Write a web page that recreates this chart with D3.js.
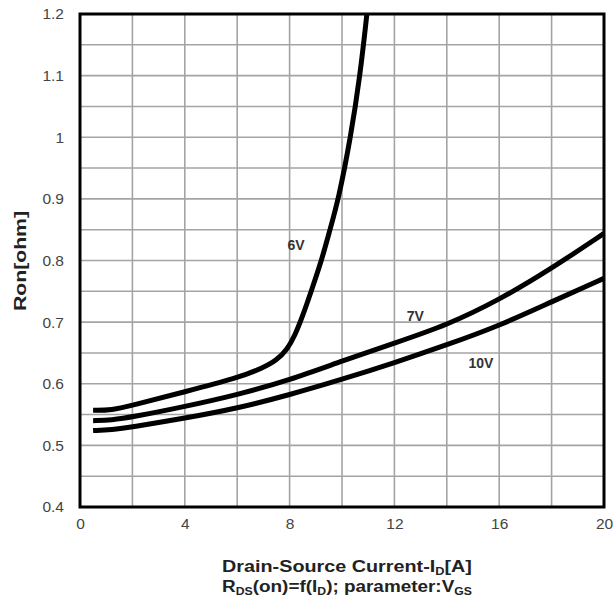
<!DOCTYPE html>
<html><head><meta charset="utf-8">
<script src="https://cdn.jsdelivr.net/npm/d3@7"></script>
<style>body{margin:0;background:#fff}svg{display:block}</style>
</head><body>
<svg id="c" width="614" height="604"></svg>
<script>
const xTicks = [0, 4, 8, 12, 16, 20];
const yTicks = [0.4, 0.5, 0.6, 0.7, 0.8, 0.9, 1, 1.1, 1.2];
const xGrid = [2, 4, 6, 8, 10, 12, 14, 16, 18];
const yGrid = [0.45, 0.5, 0.55, 0.6, 0.65, 0.7, 0.75, 0.8, 0.85, 0.9, 0.95, 1, 1.05, 1.1, 1.15];
const seriesNames = ["6V", "7V", "10V"];
const v6 = [[0.5,0.557],[1.2,0.557],[2,0.565],[4,0.587],[6,0.609],[7,0.626],[7.5,0.638],[7.9,0.655],[8.2,0.678],[8.5,0.71],[8.84,0.752],[9.22,0.80],[9.54,0.85],[9.87,0.9],[10.33,1.0],[10.69,1.1],[10.95,1.2]];
const v7 = [[0.5,0.54],[1.2,0.541],[2,0.546],[4,0.563],[6,0.582],[8,0.606],[10,0.637],[12,0.666],[14,0.695],[16,0.736],[18,0.787],[20,0.844]];
const v10 = [[0.5,0.524],[1.2,0.525],[2,0.53],[4,0.544],[6,0.56],[8,0.582],[10,0.607],[12,0.634],[14,0.663],[16,0.694],[18,0.733],[20,0.771]];
const labelPos = [[8.25,0.825],[12.8,0.71],[15.3,0.634]];

const svg = d3.select("#c");
const L = 80, T = 14, R = 604, B = 507;
const x = d3.scaleLinear().domain([0, 20]).range([L, R]);
const y = d3.scaleLinear().domain([0.4, 1.2]).range([B, T]);
const font = "'Liberation Sans', Arial, sans-serif";

// grid
svg.append("g").selectAll("line").data(xGrid).join("line")
  .attr("x1", d => x(d)).attr("x2", d => x(d)).attr("y1", T).attr("y2", B)
  .attr("stroke", "#a4a4a4").attr("stroke-width", 1.6);
svg.append("g").selectAll("line").data(yGrid).join("line")
  .attr("y1", d => y(d)).attr("y2", d => y(d)).attr("x1", L).attr("x2", R)
  .attr("stroke", "#a4a4a4").attr("stroke-width", 1.6);

// axes (labels only)
const ax = svg.append("g").attr("transform", `translate(0,${B})`)
  .call(d3.axisBottom(x).tickValues(xTicks).tickSize(0).tickPadding(11).tickFormat(d3.format("d")));
const ay = svg.append("g").attr("transform", `translate(${L},0)`)
  .call(d3.axisLeft(y).tickValues(yTicks).tickSize(0).tickPadding(16).tickFormat(d => String(+d.toFixed(1))));
[ax, ay].forEach(a => {
  a.select(".domain").remove();
  a.selectAll("text").attr("font-family", font).attr("font-size", 15.5).attr("fill", "#444");
});

// curves
const line = d3.line().x(d => x(d[0])).y(d => y(d[1])).curve(d3.curveBasis);
svg.append("g").selectAll("path").data([v6, v7, v10]).join("path")
  .attr("d", line).attr("fill", "none").attr("stroke", "#000")
  .attr("stroke-width", 5).attr("stroke-linejoin", "round");

// border
svg.append("rect").attr("x", L).attr("y", T).attr("width", R - L).attr("height", B - T)
  .attr("fill", "none").attr("stroke", "#000").attr("stroke-width", 3);

// series labels
svg.append("g").selectAll("text").data(seriesNames).join("text")
  .attr("x", (d, i) => x(labelPos[i][0])).attr("y", (d, i) => y(labelPos[i][1]))
  .attr("text-anchor", "middle").attr("dominant-baseline", "central")
  .attr("font-family", font).attr("font-size", 14).attr("font-weight", "bold").attr("fill", "#333")
  .text(d => d);

// helper: stretch text along its own direction to a target length
function stretch(sel, cx, cy, target, rot) {
  const w = sel.node().getComputedTextLength();
  const s = target / w;
  sel.attr("x", 0).attr("y", 0)
    .attr("transform", `translate(${cx},${cy}) rotate(${rot}) scale(${s},1)`);
}

// axis titles
const yt = svg.append("text").attr("text-anchor", "middle").attr("dominant-baseline", "central")
  .attr("font-family", font).attr("font-size", 16).attr("font-weight", "bold").attr("fill", "#222")
  .text("Ron[ohm]");
stretch(yt, 20, 261, 100, -90);

const t1 = svg.append("text").attr("text-anchor", "middle")
  .attr("font-family", font).attr("font-size", 17).attr("font-weight", "bold").attr("fill", "#222");
t1.append("tspan").text("Drain-Source Current-I");
t1.append("tspan").attr("font-size", 11).attr("dy", 3).text("D");
t1.append("tspan").attr("dy", -3).text("[A]");
stretch(t1, 347, 572, 250, 0);

const t2 = svg.append("text").attr("text-anchor", "middle")
  .attr("font-family", font).attr("font-size", 17).attr("font-weight", "bold").attr("fill", "#222");
t2.append("tspan").text("R");
t2.append("tspan").attr("font-size", 11).attr("dy", 3).text("DS");
t2.append("tspan").attr("dy", -3).text("(on)=f(I");
t2.append("tspan").attr("font-size", 11).attr("dy", 3).text("D");
t2.append("tspan").attr("dy", -3).text("); parameter:V");
t2.append("tspan").attr("font-size", 11).attr("dy", 3).text("GS");
stretch(t2, 347, 592, 250, 0);
</script>
</body></html>
